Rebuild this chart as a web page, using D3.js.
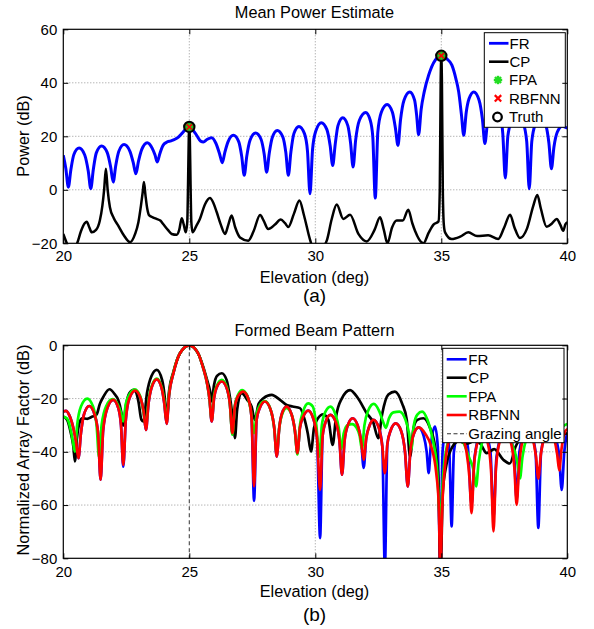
<!DOCTYPE html>
<html><head><meta charset="utf-8">
<script src="https://cdn.jsdelivr.net/npm/d3@7"></script>
<style>
body{margin:0;background:#fff;}
text{font-family:"Liberation Sans",Arial,sans-serif;fill:#000;}
</style>
</head><body>
<svg id="c" width="594" height="629"></svg>
<script>
// ---------- DATA ----------
const xTicks = [20, 25, 30, 35, 40];
const topYTicks = [-20, 0, 20, 40, 60];
const botYTicks = [-80, -60, -40, -20, 0];
const topLegend = ["FR", "CP", "FPA", "RBFNN", "Truth"];
const botLegend = ["FR", "CP", "FPA", "RBFNN", "Grazing angle"];
const truthPts = [[25, 23.5], [35, 50.1]];
const grazingAngle = 25;

// (a) Mean Power Estimate: [elevation deg, power dB]
const topFR = [[20.00,12.9],[20.10,8.0],[20.20,1.0],[20.30,7.5],[20.42,13.2],[20.63,15.6],[20.85,13.0],[20.99,7.0],[21.09,0.4],[21.19,7.5],[21.31,13.8],[21.52,16.4],[21.74,14.0],[21.88,8.5],[21.98,2.9],[22.08,9.0],[22.20,14.3],[22.41,16.9],[22.64,14.5],[22.78,10.0],[22.88,6.0],[22.98,10.5],[23.11,15.0],[23.33,17.6],[23.53,15.5],[23.64,13.0],[23.73,10.4],[23.83,13.5],[23.95,16.5],[24.10,17.8],[24.27,18.3],[24.43,18.9],[24.58,19.8],[24.70,21.0],[24.85,22.6],[25.00,23.5],[25.15,22.3],[25.29,20.4],[25.45,18.2],[25.56,17.9],[25.70,18.8],[25.89,19.5],[26.05,17.5],[26.20,13.5],[26.31,10.1],[26.41,14.0],[26.54,18.0],[26.75,20.4],[26.96,18.0],[27.08,12.5],[27.18,5.4],[27.28,12.5],[27.41,18.5],[27.63,21.2],[27.85,18.8],[27.97,13.5],[28.07,6.6],[28.17,13.5],[28.29,19.5],[28.49,22.2],[28.71,19.8],[28.83,14.0],[28.93,5.4],[29.03,14.0],[29.15,21.0],[29.35,23.7],[29.57,21.0],[29.69,14.5],[29.79,-1.5],[29.89,15.0],[30.02,22.0],[30.24,25.1],[30.46,22.5],[30.59,16.5],[30.69,9.1],[30.79,17.0],[30.90,24.0],[31.09,26.9],[31.29,24.0],[31.40,17.5],[31.50,8.5],[31.60,18.5],[31.75,26.0],[32.00,28.9],[32.18,26.0],[32.28,20.0],[32.38,-3.1],[32.48,21.5],[32.62,29.0],[32.85,31.9],[33.06,29.0],[33.18,23.0],[33.28,16.6],[33.38,26.0],[33.52,33.5],[33.75,36.6],[33.94,33.5],[34.02,28.0],[34.10,20.6],[34.20,30.0],[34.32,36.5],[34.50,42.9],[34.76,48.5],[35.00,50.1],[35.21,49.0],[35.42,46.6],[35.58,41.5],[35.69,36.6],[35.80,28.0],[35.89,20.4],[35.99,29.0],[36.10,34.0],[36.29,36.6],[36.50,33.5],[36.63,26.5],[36.73,17.3],[36.83,25.0],[36.95,29.0],[37.13,31.0],[37.32,28.5],[37.44,21.0],[37.54,4.4],[37.64,20.0],[37.78,25.5],[38.00,28.0],[38.25,25.0],[38.39,18.0],[38.49,0.4],[38.59,18.0],[38.73,24.5],[38.93,27.0],[39.15,24.0],[39.27,17.5],[39.37,7.9],[39.47,16.0],[39.60,21.5],[39.80,23.8],[40.00,23.0]];

const topCP = [[20.00,-16.5],[20.12,-19.5],[20.25,-22],[20.40,-22],[20.55,-20],[20.70,-15.5],[20.85,-12.5],[20.93,-11.9],[21.03,-14],[21.13,-15.9],[21.30,-15],[21.45,-11.5],[21.55,-6],[21.62,0],[21.69,7.9],[21.76,0],[21.85,-6.5],[22.00,-10.5],[22.18,-13.4],[22.40,-17],[22.65,-19.6],[22.85,-16.5],[22.98,-12.1],[23.08,-6],[23.15,-1],[23.20,2.9],[23.26,-2],[23.33,-7],[23.41,-9.6],[23.55,-10.3],[23.70,-10.9],[23.85,-11.5],[23.97,-12.9],[24.15,-15],[24.30,-16.5],[24.50,-16.8],[24.60,-15],[24.70,-10.6],[24.78,-13],[24.86,-15.9],[24.92,-12],[24.95,2],[24.98,20],[25.00,23.5],[25.02,20],[25.05,2],[25.08,-12],[25.13,-15.9],[25.28,-13.5],[25.42,-10.9],[25.62,-5.5],[25.82,-3.1],[25.96,-5],[26.09,-8.4],[26.25,-13],[26.42,-16.5],[26.55,-13],[26.68,-9.6],[26.82,-14],[27.01,-17.8],[27.34,-19],[27.55,-15.5],[27.81,-9.4],[27.95,-11.5],[28.13,-14.7],[28.40,-13],[28.63,-11.1],[28.80,-12.5],[28.93,-13.9],[29.15,-9],[29.37,-4],[29.55,-9.5],[29.79,-18.6],[29.90,-21.5],[30.20,-22],[30.45,-19.1],[30.65,-11],[30.85,-5.5],[31.11,-10.9],[31.38,-9.3],[31.71,-16.5],[32.04,-19.3],[32.35,-15],[32.57,-10.3],[32.72,-15],[32.86,-20],[33.05,-14],[33.23,-11.5],[33.47,-11.5],[33.69,-7.5],[33.85,-12.5],[33.96,-15.4],[34.29,-20],[34.50,-16],[34.69,-13],[34.89,-11.8],[34.94,0],[34.975,40],[35.00,50.1],[35.025,40],[35.06,0],[35.10,-13],[35.15,-15.9],[35.41,-18.4],[35.75,-17.5],[36.07,-15.9],[36.42,-17.3],[36.86,-17],[37.26,-18.4],[37.50,-14],[37.73,-9.3],[37.90,-14],[38.12,-18],[38.40,-14.5],[38.65,-6],[38.81,-1.9],[38.95,-7],[39.18,-13.8],[39.40,-12.5],[39.58,-10.9],[39.72,-13],[39.84,-15.3],[39.92,-13],[40.00,-12.1]];

// (b) Formed Beam Pattern: [elevation deg, normalized array factor dB]
const botFR = [[20.00,-24.9],[20.10,-24.6],[20.25,-26.5],[20.42,-32],[20.50,-36],[20.60,-42.4],[20.70,-33],[20.82,-26],[21.03,-22.8],[21.24,-26],[21.38,-33],[21.48,-50.5],[21.58,-32],[21.75,-23.5],[21.98,-20.5],[22.18,-23.5],[22.29,-30],[22.38,-45.6],[22.48,-28],[22.62,-20],[22.85,-17],[23.07,-20],[23.19,-25],[23.28,-31.8],[23.38,-22],[23.50,-16],[23.71,-12.8],[23.90,-16],[24.01,-22],[24.10,-29.5],[24.20,-18.5],[24.37,-10.5],[24.63,-3],[25.00,0],[25.35,-3],[25.55,-8.5],[25.72,-15],[25.80,-20],[25.89,-28.6],[25.98,-20],[26.10,-15.5],[26.29,-13.6],[26.48,-16],[26.61,-22],[26.71,-33],[26.81,-23],[26.94,-19],[27.14,-17.4],[27.34,-20],[27.47,-27],[27.57,-58.4],[27.67,-28],[27.80,-23.5],[28.00,-21.1],[28.22,-24],[28.37,-31],[28.47,-41.8],[28.57,-31],[28.68,-25.5],[28.86,-23],[29.06,-26],[29.19,-32],[29.29,-40.5],[29.39,-31],[29.51,-27],[29.72,-24.5],[29.92,-27.5],[30.07,-35],[30.19,-72.4],[30.29,-34],[30.42,-28.5],[30.60,-26.1],[30.82,-29],[30.96,-36],[31.06,-48.6],[31.16,-36],[31.29,-30],[31.48,-27.4],[31.68,-30],[31.82,-36],[31.92,-46],[32.02,-35],[32.14,-30.5],[32.31,-28],[32.52,-31],[32.66,-38],[32.76,-84],[32.86,-37],[32.99,-32],[33.19,-29.3],[33.40,-32],[33.56,-40],[33.67,-53],[33.77,-40],[33.90,-33.5],[34.10,-30.8],[34.30,-34],[34.42,-40],[34.50,-48],[34.58,-38],[34.75,-30.5],[34.86,-38],[34.96,-85],[35.05,-40],[35.20,-31],[35.32,-40],[35.41,-68],[35.50,-40],[35.78,-30],[36.05,-38],[36.20,-60],[36.32,-42],[36.65,-31],[36.95,-40],[37.07,-65],[37.19,-42],[37.53,-31],[37.88,-40],[37.99,-58],[38.10,-40],[38.43,-30],[38.74,-40],[38.85,-68.6],[38.96,-40],[39.30,-30],[39.66,-40],[39.78,-54.3],[39.88,-40],[40.00,-33]];

const botCP = [[20.00,-26.8],[20.15,-28],[20.30,-33],[20.40,-38],[20.46,-43.6],[20.54,-35],[20.66,-28.5],[20.75,-27.4],[20.95,-27.6],[21.10,-27],[21.32,-26],[21.45,-22],[21.60,-19.2],[21.83,-16.5],[22.05,-18.5],[22.18,-20.5],[22.30,-25],[22.38,-30.2],[22.48,-23],[22.62,-18],[22.80,-16.7],[22.98,-21],[23.10,-28],[23.18,-28.6],[23.32,-18],[23.50,-11.5],[23.71,-9.2],[23.92,-13],[24.03,-20],[24.10,-28],[24.20,-17],[24.37,-10],[24.63,-3],[25.00,0],[25.35,-3],[25.55,-8],[25.72,-13.5],[25.82,-17],[25.89,-21.1],[25.98,-15],[26.10,-11.5],[26.29,-10.5],[26.48,-13],[26.62,-20],[26.73,-28],[26.81,-34.9],[26.90,-24],[27.08,-18],[27.30,-20.5],[27.47,-23],[27.60,-28],[27.75,-22],[27.94,-19.9],[28.27,-18.6],[28.60,-20.5],[28.86,-22.4],[29.10,-23],[29.39,-23.6],[29.58,-28],[29.70,-33],[29.83,-39.9],[29.95,-31],[30.10,-27.5],[30.32,-25.9],[30.52,-28.1],[30.69,-37.4],[30.82,-27],[31.05,-20],[31.38,-16.8],[31.70,-20],[32.04,-25.5],[32.30,-29],[32.50,-34.9],[32.65,-26],[32.90,-18.5],[33.16,-17.4],[33.45,-22],[33.63,-28],[33.76,-41.8],[33.90,-31],[34.05,-28],[34.29,-27.4],[34.55,-31],[34.75,-38],[34.88,-50],[34.97,-85],[35.06,-55],[35.20,-45],[35.45,-38],[35.70,-36],[36.00,-37],[36.30,-36],[36.55,-37],[36.80,-40.5],[37.10,-39],[37.46,-43],[37.72,-44.4],[37.95,-38],[38.30,-34],[38.70,-33],[39.10,-32],[39.50,-34],[40.00,-33]];

const botFPA = [[20.00,-26.8],[20.15,-27.5],[20.30,-32],[20.38,-36],[20.46,-39.9],[20.55,-30],[20.70,-23],[20.95,-20],[21.18,-23],[21.32,-30],[21.42,-42],[21.52,-30],[21.72,-22.5],[21.95,-20.2],[22.15,-22],[22.28,-25],[22.38,-28.6],[22.48,-22],[22.62,-18.5],[22.84,-16.5],[23.05,-19],[23.18,-25],[23.28,-30.5],[23.38,-21],[23.50,-15.5],[23.71,-12.5],[23.90,-15.5],[24.01,-21],[24.10,-28.5],[24.20,-18],[24.37,-10.2],[24.63,-3],[25.00,0],[25.35,-3],[25.55,-8.5],[25.72,-15],[25.80,-20],[25.89,-28],[25.98,-19],[26.10,-15],[26.29,-13],[26.48,-15.5],[26.61,-22],[26.71,-33.6],[26.81,-22.5],[26.94,-18.5],[27.10,-16.8],[27.30,-19],[27.45,-25],[27.57,-33],[27.67,-26],[27.80,-22.5],[28.00,-21],[28.22,-24],[28.37,-31],[28.47,-40.5],[28.57,-31],[28.68,-26],[28.86,-23.6],[29.06,-26],[29.19,-32],[29.29,-41],[29.39,-30],[29.51,-25],[29.72,-21.8],[29.90,-23],[30.04,-30],[30.16,-41.8],[30.26,-30],[30.40,-25],[30.60,-23],[30.80,-26],[30.93,-31],[31.03,-39],[31.13,-33],[31.28,-30],[31.46,-29.6],[31.64,-31],[31.76,-34],[31.85,-39],[31.95,-30],[32.10,-24.5],[32.32,-22],[32.55,-25],[32.70,-29],[32.80,-31],[32.92,-27.5],[33.10,-25.2],[33.34,-24.9],[33.58,-28],[33.72,-33],[33.81,-39],[33.91,-30],[34.05,-26],[34.24,-24.9],[34.45,-28],[34.65,-35],[34.82,-45],[34.96,-65.5],[35.08,-48],[35.22,-38],[35.40,-34],[35.60,-33],[35.85,-36],[36.10,-42],[36.28,-47],[36.38,-53],[36.48,-44],[36.65,-35],[36.90,-30],[37.20,-28.5],[37.50,-31],[37.80,-37],[38.00,-43],[38.12,-50],[38.22,-42],[38.40,-34],[38.70,-29],[39.00,-27.5],[39.30,-29],[39.55,-31.5],[39.80,-30.5],[40.00,-29.5]];

const botRBFNN = [[20.00,-24.9],[20.10,-24.6],[20.25,-26.5],[20.42,-32],[20.50,-36],[20.60,-42.4],[20.70,-33],[20.82,-26],[21.03,-22.8],[21.24,-26],[21.38,-33],[21.48,-50.5],[21.58,-32],[21.75,-23.5],[21.98,-20.5],[22.18,-23.5],[22.29,-30],[22.38,-44.9],[22.48,-28],[22.62,-20],[22.85,-17],[23.07,-20],[23.19,-25],[23.28,-31.8],[23.38,-22],[23.50,-16],[23.71,-12.8],[23.90,-16],[24.01,-22],[24.10,-29.5],[24.20,-18.5],[24.37,-10.5],[24.63,-3],[25.00,0],[25.35,-3],[25.55,-8.5],[25.72,-15],[25.80,-20],[25.89,-28.6],[25.98,-20],[26.10,-15.5],[26.29,-13.6],[26.48,-16],[26.61,-22],[26.71,-33],[26.81,-23],[26.94,-19],[27.14,-17.4],[27.34,-20],[27.47,-27],[27.57,-53],[27.67,-28],[27.80,-23.5],[28.00,-21.1],[28.22,-24],[28.37,-31],[28.47,-41.8],[28.57,-31],[28.68,-25.5],[28.86,-23],[29.06,-26],[29.19,-32],[29.29,-40.5],[29.39,-31],[29.51,-27],[29.72,-24.5],[29.92,-27.5],[30.07,-35],[30.19,-54.3],[30.29,-34],[30.42,-28.5],[30.60,-26.1],[30.82,-29],[30.96,-36],[31.06,-48.6],[31.16,-36],[31.29,-30],[31.48,-27.4],[31.68,-30],[31.82,-36],[31.92,-43],[32.02,-35],[32.14,-30.5],[32.31,-28],[32.52,-31],[32.66,-38],[32.76,-48],[32.86,-37],[32.99,-32],[33.19,-29.3],[33.40,-32],[33.56,-40],[33.67,-53],[33.77,-40],[33.90,-33.5],[34.10,-30.8],[34.35,-33],[34.60,-38],[34.80,-48],[34.90,-60],[34.96,-85],[35.04,-60],[35.15,-45],[35.30,-36],[35.55,-32.5],[35.80,-34],[36.00,-40],[36.12,-50],[36.20,-63],[36.30,-45],[36.45,-36],[36.65,-33],[36.85,-37],[36.98,-48],[37.07,-69.9],[37.17,-46],[37.32,-36],[37.53,-32],[37.75,-36],[37.90,-46],[37.99,-59.9],[38.09,-45],[38.24,-35],[38.43,-31],[38.63,-35],[38.76,-42],[38.85,-50],[38.95,-41],[39.10,-34],[39.28,-31],[39.48,-35],[39.60,-41],[39.68,-47],[39.77,-39],[39.88,-33],[40.00,-31.5]];

// ---------- DRAWING ----------
const svg = d3.select("#c");
svg.append("rect").attr("width",594).attr("height",629).attr("fill","#fff");
const L = 63.3, R = 567.3;
const x = d3.scaleLinear().domain([20, 40]).range([L, R]);

function panel(o) {
  const y = d3.scaleLinear().domain(o.domain).range([o.bottom, o.top]);
  const g = svg.append("g");
  const clipId = "clip" + o.id;
  svg.append("clipPath").attr("id", clipId).append("rect")
    .attr("x", L).attr("y", o.top).attr("width", R - L).attr("height", o.bottom - o.top);
  const grid = g.append("g").attr("stroke", "#8a8a8a").attr("stroke-width", 0.9).attr("stroke-dasharray", "1,2");
  o.gridX.forEach(v => grid.append("line").attr("x1", x(v)).attr("x2", x(v)).attr("y1", o.top).attr("y2", o.bottom));
  o.gridY.forEach(v => grid.append("line").attr("x1", L).attr("x2", R).attr("y1", y(v)).attr("y2", y(v)));
  const line = d3.line().x(d => x(d[0])).y(d => y(d[1])).curve(d3.curveMonotoneX);
  const lg = g.append("g").attr("clip-path", `url(#${clipId})`);
  o.series.forEach(s => lg.append("path").datum(s.data).attr("d", line)
    .attr("fill", "none").attr("stroke", s.color).attr("stroke-width", s.width)
    .attr("stroke-linejoin", "round"));
  if (o.after) o.after(g, y, lg);
  const ax = g.append("g").attr("class", "ax");
  ax.append("g").attr("transform", `translate(0,${o.bottom})`)
    .call(d3.axisBottom(x).tickValues(xTicks).tickSize(-5).tickPadding(o.xPad).tickFormat(d3.format("d")));
  ax.append("g").attr("transform", `translate(0,${o.top})`)
    .call(d3.axisTop(x).tickValues(xTicks).tickSize(-5).tickFormat(""));
  ax.append("g").attr("transform", `translate(${L},0)`)
    .call(d3.axisLeft(y).tickValues(o.yTicks).tickSize(-5).tickPadding(6).tickFormat(d3.format("d")));
  ax.append("g").attr("transform", `translate(${R},0)`)
    .call(d3.axisRight(y).tickValues(o.yTicks).tickSize(-5).tickFormat(""));
  ax.selectAll(".domain").remove();
  ax.selectAll("line").attr("stroke", "#000");
  ax.selectAll("text").attr("font-size", "15px").attr("font-family", '"Liberation Sans",Arial,sans-serif').attr("fill", "#000");
  g.append("rect").attr("x", L).attr("y", o.top).attr("width", R - L).attr("height", o.bottom - o.top)
    .attr("fill", "none").attr("stroke", "#000").attr("stroke-width", 1.2);
  g.append("text").attr("x", 314.5).attr("y", o.titleY).attr("text-anchor", "middle").attr("font-size", "16.3px").text(o.title);
  g.append("text").attr("x", 314.5).attr("y", o.xlabY).attr("text-anchor", "middle").attr("font-size", "16.3px").text("Elevation (deg)");
  g.append("text").attr("transform", `translate(28.5,${o.ylabC}) rotate(-90)`).attr("text-anchor", "middle").attr("font-size", "16.3px").text(o.ylab);
  g.append("text").attr("x", 314.5).attr("y", o.capY).attr("text-anchor", "middle").attr("font-size", "19px").text(o.cap);
  return y;
}

function star(g, cx, cy, r, color, w) {
  [[r,0],[0,r],[r*0.72,r*0.72],[r*0.72,-r*0.72]].forEach(([dx,dy]) =>
    g.append("line").attr("x1",cx-dx).attr("y1",cy-dy).attr("x2",cx+dx).attr("y2",cy+dy)
      .attr("stroke",color).attr("stroke-width",w));
}
function cross(g, cx, cy, r, color, w) {
  [[r,r],[r,-r]].forEach(([dx,dy]) =>
    g.append("line").attr("x1",cx-dx).attr("y1",cy-dy).attr("x2",cx+dx).attr("y2",cy+dy)
      .attr("stroke",color).attr("stroke-width",w));
}

panel({
  id: "a", top: 29.3, bottom: 243.3, domain: [-20, 60], yTicks: topYTicks,
  gridX: [25, 30, 35], gridY: [0, 20, 40], xPad: 7,
  series: [
    {data: topFR, color: "#0000ff", width: 3},
    {data: topCP, color: "#000000", width: 2.5}
  ],
  after: (g, y) => {
    truthPts.forEach(p => {
      const cx = x(p[0]), cy = y(p[1]);
      g.append("circle").attr("cx",cx).attr("cy",cy).attr("r",5).attr("fill","#3a8a1a");
      star(g, cx, cy, 3.5, "#22cc22", 2);
      cross(g, cx, cy, 2.6, "#ff0000", 1.6);
      g.append("circle").attr("cx",cx).attr("cy",cy).attr("r",5.2).attr("fill","none").attr("stroke","#000").attr("stroke-width",2);
    });
    const lg = g.append("g");
    lg.append("rect").attr("x",484.3).attr("y",32.7).attr("width",81).attr("height",94.6)
      .attr("fill","#fff").attr("stroke","#000").attr("stroke-width",1);
    const ys = [43.3, 61.7, 80, 98.3, 117];
    lg.append("line").attr("x1",489).attr("x2",508.5).attr("y1",ys[0]).attr("y2",ys[0]).attr("stroke","#0000ff").attr("stroke-width",2.8);
    lg.append("line").attr("x1",489).attr("x2",508.5).attr("y1",ys[1]).attr("y2",ys[1]).attr("stroke","#000").attr("stroke-width",2.6);
    star(lg, 498, ys[2], 4.2, "#22dd22", 2.4);
    cross(lg, 498, ys[3], 3.2, "#ff0000", 2.2);
    lg.append("circle").attr("cx",497.5).attr("cy",ys[4]).attr("r",4.3).attr("fill","none").attr("stroke","#000").attr("stroke-width",2.3);
    topLegend.forEach((t,i) => lg.append("text").attr("x", i < 2 ? 509.5 : 509).attr("y", ys[i]).attr("dy","0.36em").attr("font-size","15px").text(t));
  },
  title: "Mean Power Estimate", titleY: 18.3, xlabY: 283.3, ylab: "Power (dB)", ylabC: 136,
  cap: "(a)", capY: 302
});

panel({
  id: "b", top: 345.3, bottom: 558.3, domain: [-80, 0], yTicks: botYTicks,
  gridX: [30, 35], gridY: [-20, -40, -60], xPad: 8,
  series: [
    {data: botFR, color: "#0000ff", width: 2.7},
    {data: botCP, color: "#000000", width: 2.7},
    {data: botFPA, color: "#00ff00", width: 2.7},
    {data: botRBFNN, color: "#ff0000", width: 2.7}
  ],
  after: (g, y, clipG) => {
    g.append("line").attr("x1", x(grazingAngle)).attr("x2", x(grazingAngle)).attr("y1", 345.3).attr("y2", 558.3)
      .attr("stroke","#444").attr("stroke-width",1.1).attr("stroke-dasharray","4,3");
    const lg = g.append("g");
    lg.append("rect").attr("x",442.7).attr("y",348.3).attr("width",121.3).attr("height",94.4)
      .attr("fill","#fff").attr("stroke","#000").attr("stroke-width",1);
    const ys = [359.3, 377.7, 396.3, 415, 433.7];
    const cols = ["#0000ff", "#000", "#00ff00", "#ff0000"];
    cols.forEach((c,i) => lg.append("line").attr("x1",446.7).attr("x2",466.7).attr("y1",ys[i]).attr("y2",ys[i]).attr("stroke",c).attr("stroke-width",2.6));
    lg.append("line").attr("x1",447).attr("x2",467).attr("y1",ys[4]).attr("y2",ys[4]).attr("stroke","#333").attr("stroke-width",1.1).attr("stroke-dasharray","4,2.5");
    botLegend.forEach((t,i) => lg.append("text").attr("x",468.3).attr("y",ys[i]).attr("dy","0.36em").attr("font-size","15px").text(t));
  },
  title: "Formed Beam Pattern", titleY: 336, xlabY: 596.7, ylab: "Normalized Array Factor (dB)", ylabC: 450,
  cap: "(b)", capY: 621
});
</script>
</body></html>
